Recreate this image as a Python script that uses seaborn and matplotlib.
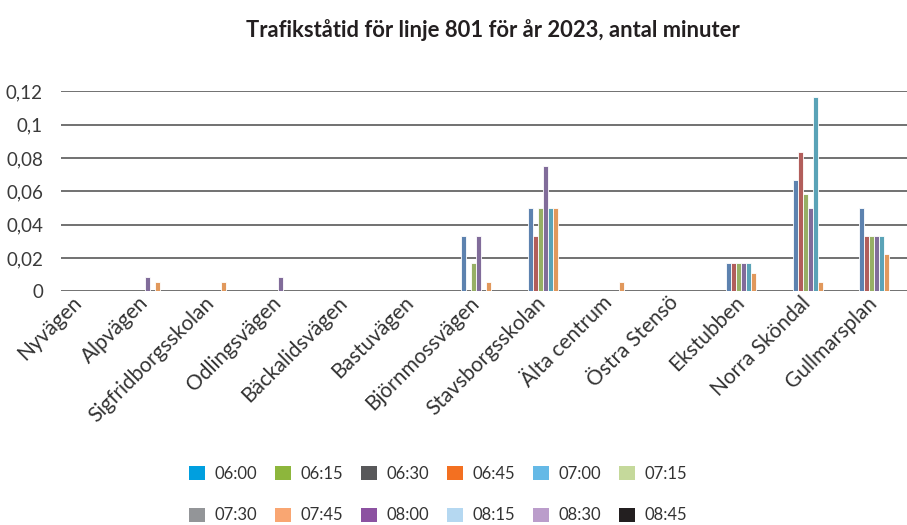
import matplotlib
matplotlib.use("Agg")
import matplotlib.pyplot as plt
from matplotlib.patches import Patch
import pandas as pd
import seaborn as sns

# Stops along line 801
stops = ["Nyvägen", "Alpvägen", "Sigfridborgsskolan", "Odlingsvägen", "Bäckalidsvägen",
         "Bastuvägen", "Björnmossvägen", "Stavsborgsskolan", "Älta centrum", "Östra Stensö",
         "Ekstubben", "Norra Sköndal", "Gullmarsplan"]

# Standing time (minutes) per stop, one list per bar series
serie_1 = [0, 0, 0, 0, 0, 0, 0.0333, 0.05, 0, 0, 0.0167, 0.0667, 0.05]
serie_2 = [0, 0, 0, 0, 0, 0, 0, 0.0333, 0, 0, 0.0167, 0.0833, 0.0333]
serie_3 = [0, 0, 0, 0, 0, 0, 0.0167, 0.05, 0, 0, 0.0167, 0.0583, 0.0333]
serie_4 = [0, 0.0083, 0, 0.0083, 0, 0, 0.0333, 0.075, 0, 0, 0.0167, 0.05, 0.0333]
serie_5 = [0, 0, 0, 0, 0, 0, 0, 0.05, 0, 0, 0.0167, 0.1167, 0.0333]
serie_6 = [0, 0.0056, 0.0056, 0, 0, 0, 0.0056, 0.05, 0.0056, 0, 0.0111, 0.0056, 0.0222]

series_names = ["serie 1", "serie 2", "serie 3", "serie 4", "serie 5", "serie 6"]
series_values = [serie_1, serie_2, serie_3, serie_4, serie_5, serie_6]
bar_colors = ["#4F81BD", "#C0504D", "#9BBB59", "#8064A2", "#4BACC6", "#F79646"]

# Legend entries (departure times)
legend_labels = ["06:00", "06:15", "06:30", "06:45", "07:00", "07:15",
                 "07:30", "07:45", "08:00", "08:15", "08:30", "08:45"]
legend_colors = ["#009FDF", "#8DB63C", "#58585A", "#F37021", "#65B9E6", "#C5D99B",
                 "#939598", "#F9A672", "#8C52A1", "#B5D8F1", "#BB9DCB", "#231F20"]

y_ticks = [0, 0.02, 0.04, 0.06, 0.08, 0.10, 0.12]
y_tick_labels = ["0", "0,02", "0,04", "0,06", "0,08", "0,1", "0,12"]

rows = []
for name, vals in zip(series_names, series_values):
    for stop, v in zip(stops, vals):
        rows.append({"hållplats": stop, "serie": name, "minuter": v})
df = pd.DataFrame(rows)

sns.set_theme(style="white")
plt.rcParams["font.family"] = ["Lato", "DejaVu Sans"]

fig = plt.figure(figsize=(9.07, 5.25), dpi=100)
W, H = 907, 525
ax = fig.add_axes([61 / W, 1 - 291.3 / H, (907 - 61) / W, (291.3 - 90.7) / H])

sns.barplot(data=df, x="hållplats", y="minuter", hue="serie", order=stops,
            hue_order=series_names, palette=bar_colors, width=0.4525, dodge=True,
            edgecolor="white", linewidth=0.6, errorbar=None, legend=False, ax=ax)

ax.set_xlim(-0.27, 12.5)
ax.set_ylim(0, 0.1203)
ax.set_yticks(y_ticks)
ax.set_yticklabels(y_tick_labels, fontsize=13.5, color="#3a3a3a")
ax.yaxis.grid(True, color="#4a4a4a", linewidth=1.1)
ax.xaxis.grid(False)
ax.set_axisbelow(True)
for s in ax.spines.values():
    s.set_visible(False)
ax.tick_params(axis="y", length=0, pad=13)
ax.tick_params(axis="x", length=0, pad=6)
ax.set_xlabel("")
ax.set_ylabel("")
ax.set_xticks(range(len(stops)))
ax.set_xticklabels(stops, rotation=45, ha="right", va="center", rotation_mode="anchor",
                   fontsize=15, color="#333333")

fig.text(493 / W, 1 - 30 / H, "Trafikståtid för linje 801 för år 2023, antal minuter",
         ha="center", va="center", fontsize=15.8, fontweight="bold", color="#231F20")

# Legend: row-major order in a 2x6 grid
handles = [Patch(facecolor=c, edgecolor="none") for c in legend_colors]
order = [i + 6 * r for i in range(6) for r in range(2)]
fig.legend([handles[i] for i in order], [legend_labels[i] for i in order], ncol=6,
           loc="center", bbox_to_anchor=(438 / W, 1 - 494.5 / H), frameon=False,
           fontsize=12, handlelength=0.95, handleheight=0.95, handletextpad=0.6,
           columnspacing=1.05, labelspacing=1.55, labelcolor="#333333")

fig.savefig("out.png", dpi=100)
